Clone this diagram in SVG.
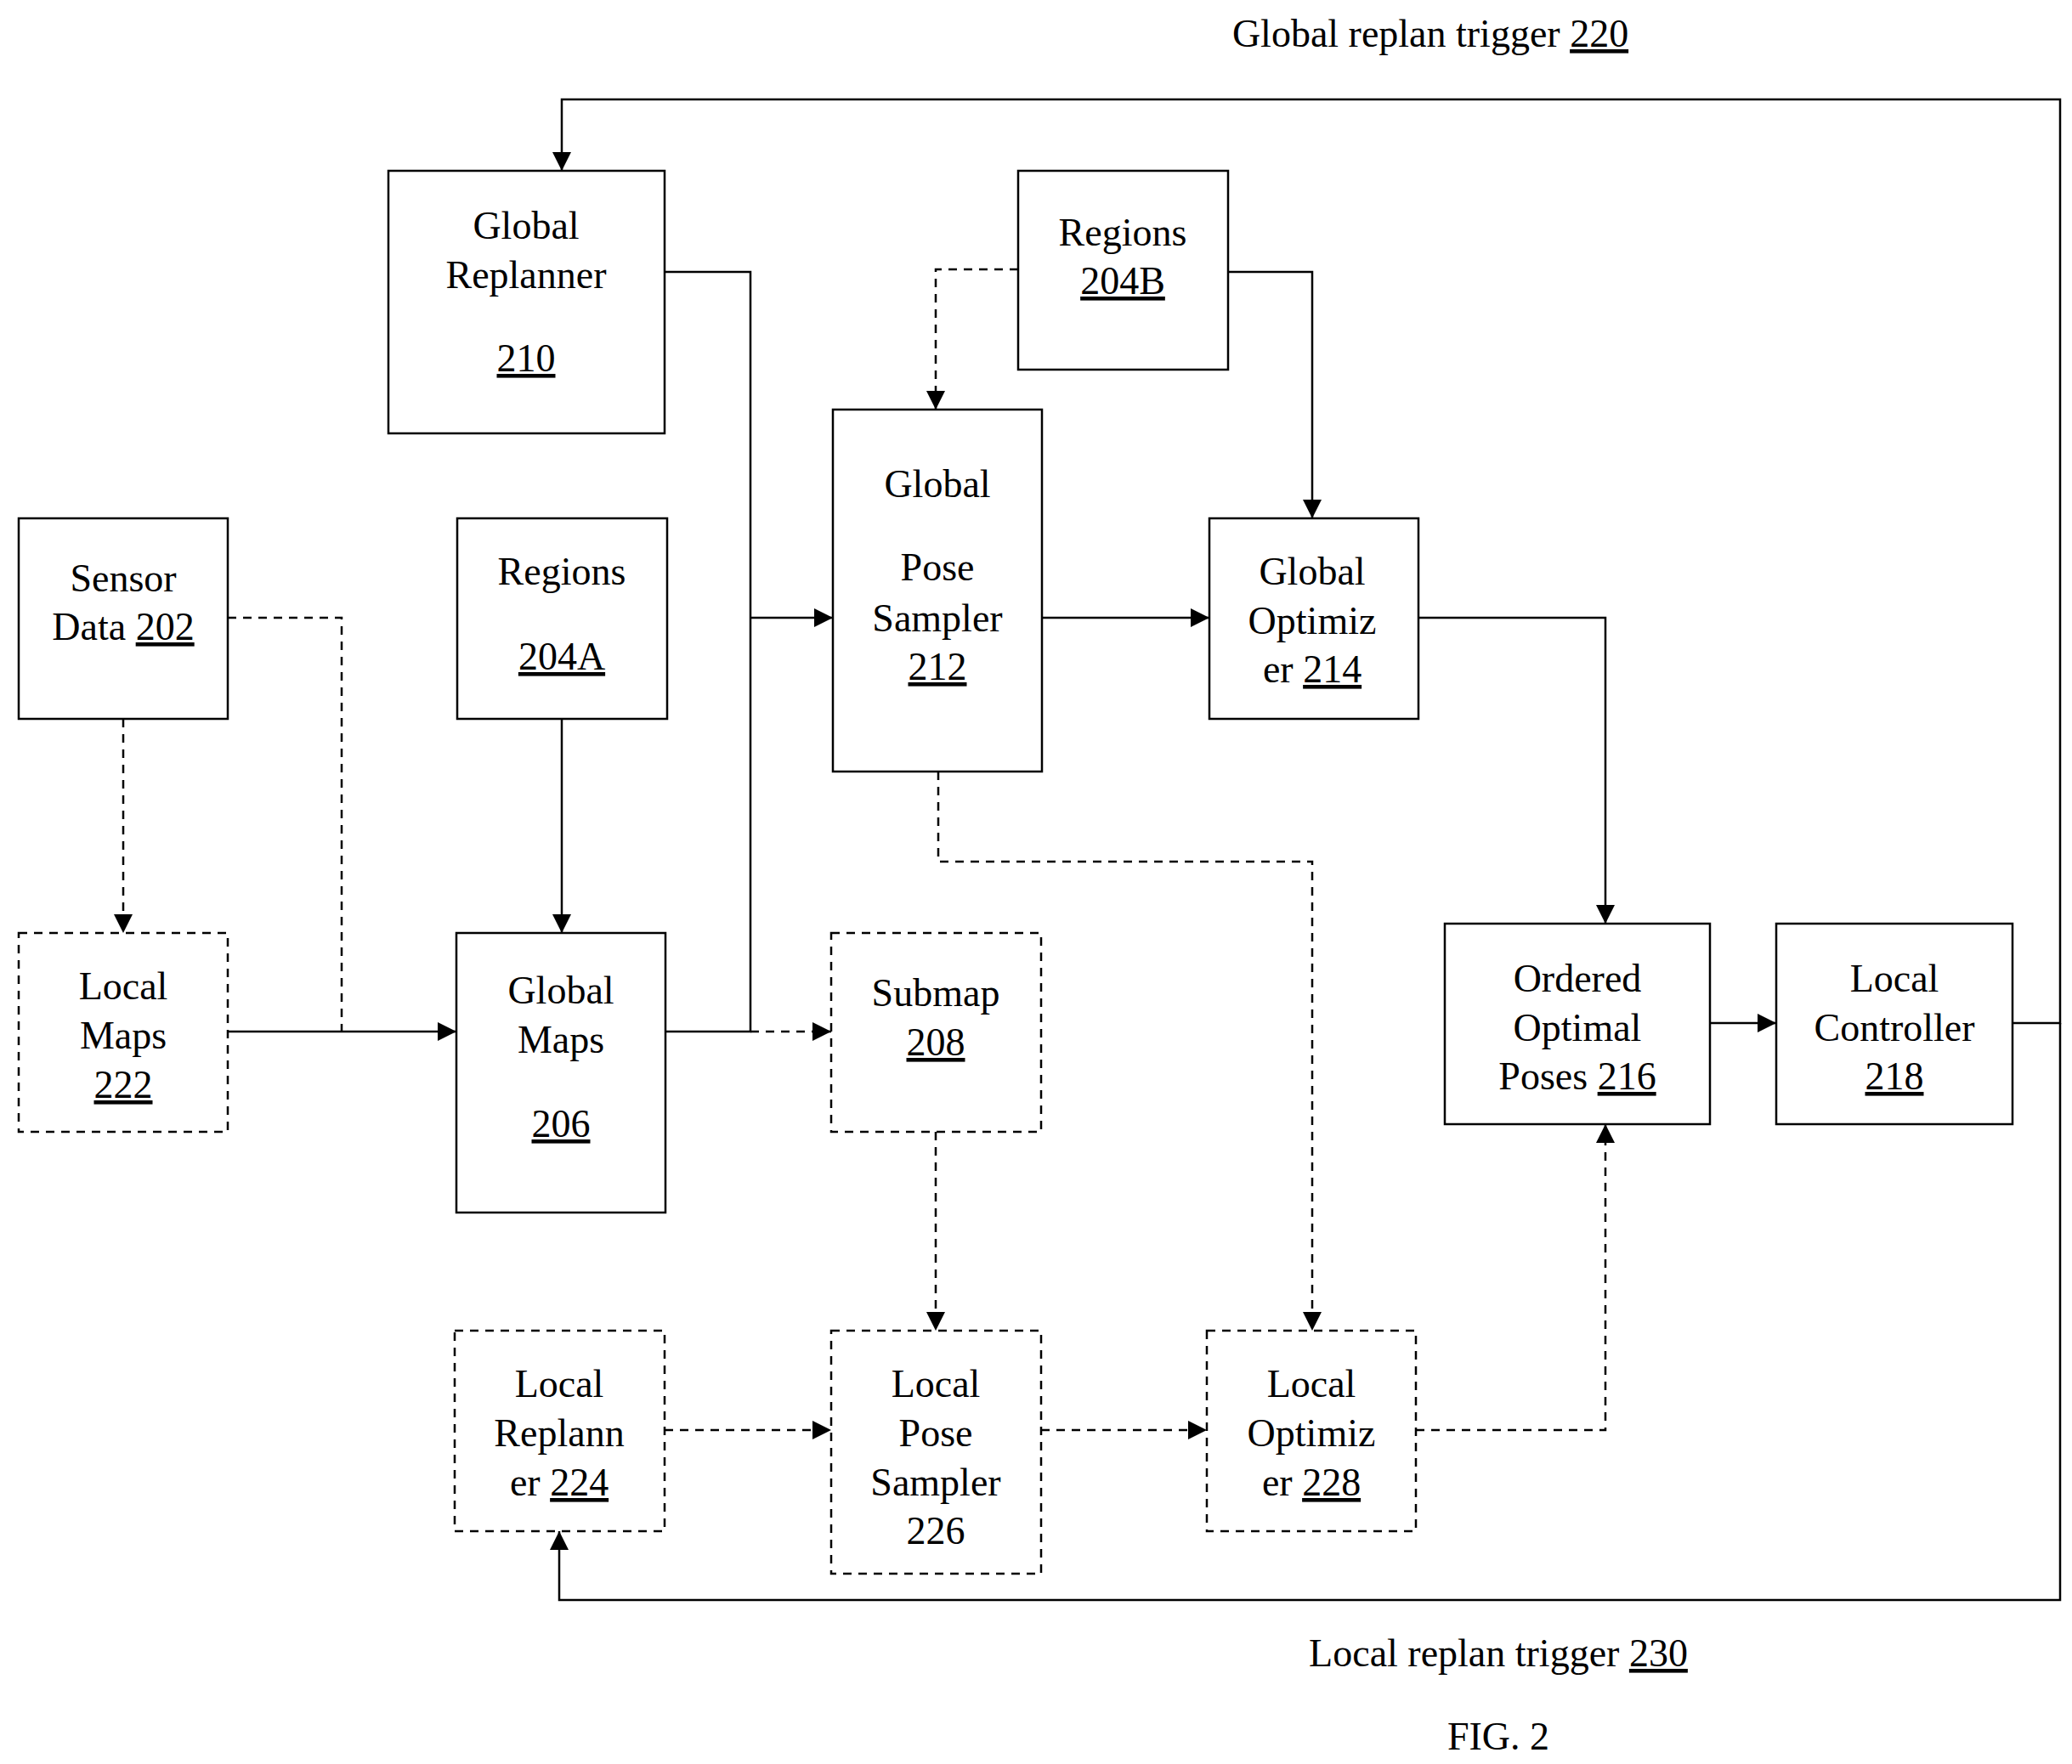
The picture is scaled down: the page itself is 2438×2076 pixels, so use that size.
<svg xmlns="http://www.w3.org/2000/svg" width="2438" height="2076" viewBox="0 0 2438 2076">
<style>
text{font-family:"Liberation Serif","Times New Roman",serif;font-size:46px;fill:#000;text-anchor:middle}
.u{text-decoration:underline}
.b{fill:#fff;stroke:#000;stroke-width:2.5}
.d{stroke-dasharray:10 8}
.l{fill:none;stroke:#000;stroke-width:2.5}
</style>
<defs><marker id="a" viewBox="0 0 10 10" refX="10" refY="5" markerWidth="8" markerHeight="8" markerUnits="userSpaceOnUse" orient="auto"><path d="M0,0L10,5L0,10z" fill="#000"/></marker>
<marker id="m" viewBox="0 0 10 10" refX="10" refY="5" markerWidth="22" markerHeight="22" markerUnits="userSpaceOnUse" orient="auto"><path d="M0,0L10,5L0,10z" fill="#000"/></marker></defs>
<rect width="2438" height="2076" fill="#fff"/>
<text x="1683" y="55">Global replan trigger <tspan class="u">220</tspan></text>
<text x="1763" y="1961">Local replan trigger <tspan class="u">230</tspan></text>
<text x="1763" y="2059">FIG. 2</text>
<g id="connectors" class="l">
<path d="M2368,1204H2424V117H661V201" marker-end="url(#m)"/>
<path d="M2424,1204V1883H658V1802" marker-end="url(#m)"/>
<path d="M782,320H883V1214H783"/>
<path d="M883,727H980" marker-end="url(#m)"/>
<path class="d" d="M1198,317H1101V482" marker-end="url(#m)"/>
<path d="M1445,320H1544V610" marker-end="url(#m)"/>
<path d="M1226,727H1423" marker-end="url(#m)"/>
<path d="M1669,727H1889V1087" marker-end="url(#m)"/>
<path d="M2012,1204H2090" marker-end="url(#m)"/>
<path class="d" d="M145,846V1098" marker-end="url(#m)"/>
<path class="d" d="M268,727H402V1214"/>
<path d="M268,1214H537" marker-end="url(#m)"/>
<path d="M661,846V1098" marker-end="url(#m)"/>
<path class="d" d="M883,1214H978" marker-end="url(#m)"/>
<path class="d" d="M1104,908V1014H1544V1566" marker-end="url(#m)"/>
<path class="d" d="M1101,1332V1566" marker-end="url(#m)"/>
<path class="d" d="M782,1683H978" marker-end="url(#m)"/>
<path class="d" d="M1225,1683H1420" marker-end="url(#m)"/>
<path class="d" d="M1666,1683H1889V1323" marker-end="url(#m)"/>
</g>
<g id="n210"><rect class="b" x="457" y="201" width="325" height="309"/><text x="619" y="281">Global</text><text x="619" y="339">Replanner</text><text x="619" y="437" class="u">210</text></g>
<g id="n204B"><rect class="b" x="1198" y="201" width="247" height="234"/><text x="1321" y="289">Regions</text><text x="1321" y="346" class="u">204B</text></g>
<g id="n212"><rect class="b" x="980" y="482" width="246" height="426"/><text x="1103" y="585">Global</text><text x="1103" y="683">Pose</text><text x="1103" y="743">Sampler</text><text x="1103" y="800" class="u">212</text></g>
<g id="n202"><rect class="b" x="22" y="610" width="246" height="236"/><text x="145" y="696">Sensor</text><text x="145" y="753">Data <tspan class="u">202</tspan></text></g>
<g id="n204A"><rect class="b" x="538" y="610" width="247" height="236"/><text x="661" y="688">Regions</text><text x="661" y="788" class="u">204A</text></g>
<g id="n214"><rect class="b" x="1423" y="610" width="246" height="236"/><text x="1544" y="688">Global</text><text x="1544" y="746">Optimiz</text><text x="1544" y="803">er <tspan class="u">214</tspan></text></g>
<g id="n222"><rect class="b d" x="22" y="1098" width="246" height="234"/><text x="145" y="1176">Local</text><text x="145" y="1234">Maps</text><text x="145" y="1292" class="u">222</text></g>
<g id="n206"><rect class="b" x="537" y="1098" width="246" height="329"/><text x="660" y="1181">Global</text><text x="660" y="1239">Maps</text><text x="660" y="1338" class="u">206</text></g>
<g id="n208"><rect class="b d" x="978" y="1098" width="247" height="234"/><text x="1101" y="1184">Submap</text><text x="1101" y="1242" class="u">208</text></g>
<g id="n216"><rect class="b" x="1700" y="1087" width="312" height="236"/><text x="1856" y="1167">Ordered</text><text x="1856" y="1225">Optimal</text><text x="1856" y="1282">Poses <tspan class="u">216</tspan></text></g>
<g id="n218"><rect class="b" x="2090" y="1087" width="278" height="236"/><text x="2229" y="1167">Local</text><text x="2229" y="1225">Controller</text><text x="2229" y="1282" class="u">218</text></g>
<g id="n224"><rect class="b d" x="535" y="1566" width="247" height="236"/><text x="658" y="1644">Local</text><text x="658" y="1702">Replann</text><text x="658" y="1760">er <tspan class="u">224</tspan></text></g>
<g id="n226"><rect class="b d" x="978" y="1566" width="247" height="286"/><text x="1101" y="1644">Local</text><text x="1101" y="1702">Pose</text><text x="1101" y="1760">Sampler</text><text x="1101" y="1817">226</text></g>
<g id="n228"><rect class="b d" x="1420" y="1566" width="246" height="236"/><text x="1543" y="1644">Local</text><text x="1543" y="1702">Optimiz</text><text x="1543" y="1760">er <tspan class="u">228</tspan></text></g>
</svg>
